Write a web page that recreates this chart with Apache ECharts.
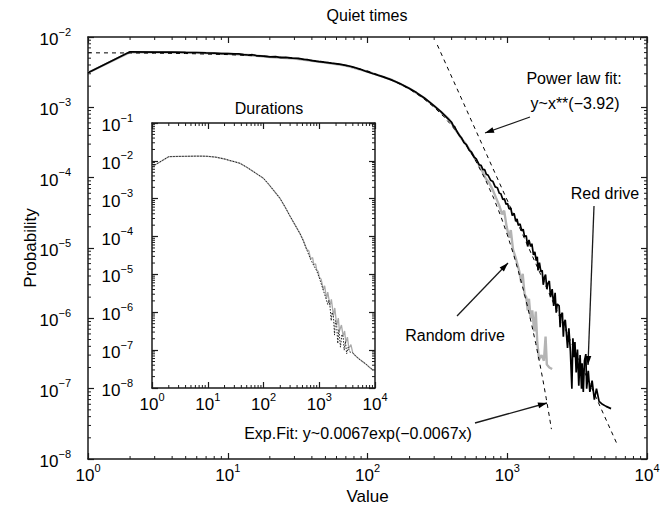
<!DOCTYPE html>
<html><head><meta charset="utf-8">
<script src="https://cdn.jsdelivr.net/npm/echarts@6/dist/echarts.min.js"></script>
<style>html,body{margin:0;padding:0;background:#fff}#c{width:665px;height:510px}</style>
</head><body><div id="c"></div>
<script>
// ---------- data ----------
const redDrive = [[1,3.1e-3],[2,6.15e-3],[3,6.1e-3],[4,6.12e-3],[5,6.05e-3],[6,6.02e-3],[7,5.95e-3],[8,5.9e-3],[9,5.82e-3],[10,5.8e-3],[11,5.74e-3],[12,5.77e-3],[13,5.62e-3],[14,5.55e-3],[15,5.6e-3],[16,5.45e-3],[18,5.35e-3],[20,5.22e-3],[22,5.27e-3],[24,5.1e-3],[26,5.14e-3],[29,5.0e-3],[32,4.96e-3],[35,4.82e-3],[37,4.76e-3],[40,4.62e-3],[45,4.47e-3],[50,4.36e-3],[55,4.25e-3],[63,4.12e-3],[70,3.95e-3],[78,3.78e-3],[88,3.5e-3],[98,3.24e-3],[110,3.0e-3],[128,2.73e-3],[145,2.5e-3],[169,2.2e-3],[195,1.9e-3],[224,1.62e-3],[255,1.36e-3],[291,1.1e-3],[335,8.7e-4],[385,6.6e-4],[400,6.1e-4],[410,5.5e-4],[420,5.3e-4],[435,4.6e-4],[454,4.0e-4],[470,3.7e-4],[490,3.15e-4],[510,2.95e-4],[535,2.45e-4],[555,2.3e-4],[580,1.95e-4],[600,1.85e-4],[630,1.52e-4],[650,1.5e-4],[670,1.3e-4],[690,1.3e-4],[708,1.12e-4],[730,1.08e-4],[760,9.2e-5],[790,8.8e-5],[820,7.4e-5],[850,7.2e-5],[877,6.0e-5],[900,5.9e-5],[930,4.9e-5],[955,5.0e-5],[980,4.2e-5],[1005,4.3e-5],[1030,3.6e-5],[1060,3.7e-5],[1086,2.9e-5],[1120,3.1e-5],[1150,2.4e-5],[1175,2.6e-5],[1200,2.1e-5],[1235,2.2e-5],[1270,1.75e-5],[1300,1.85e-5],[1330,1.45e-5],[1367,1.5e-5],[1400,1.05e-5],[1430,1.3e-5],[1470,1.05e-5],[1500,1.15e-5],[1540,8.0e-6],[1575,8.8e-6],[1611,6.6e-6],[1640,7.5e-6],[1660,4.8e-6],[1700,6.2e-6],[1740,4.6e-6],[1778,4.8e-6],[1810,3.0e-6],[1850,3.9e-6],[1880,4.2e-6],[1920,2.6e-6],[1950,3.1e-6],[2000,3.4e-6],[2040,2.0e-6],[2096,2.6e-6],[2150,1.5e-6],[2200,2.3e-6],[2240,1.2e-6],[2280,1.6e-6],[2352,1.5e-6],[2390,7.5e-7],[2420,1.1e-6],[2480,1.2e-6],[2520,5.5e-7],[2550,8.5e-7],[2600,9.5e-7],[2640,6.8e-7],[2700,3.8e-7],[2760,7.2e-7],[2830,3.4e-7],[2900,1.0e-7],[2950,5.2e-7],[3000,2.8e-7],[3050,4.6e-7],[3113,1.7e-7],[3180,3.6e-7],[3250,1.1e-7],[3320,3.0e-7],[3400,1.0e-7],[3432,2.3e-7],[3500,9.0e-8],[3570,2.5e-7],[3650,3.1e-7],[3700,1.0e-7],[3800,1.8e-7],[3900,9.0e-8],[4048,1.3e-7],[4200,7.0e-8],[4350,1.0e-7],[4541,6.6e-8],[4800,6.0e-8],[5100,5.6e-8],[5530,5.2e-8]];

const randomDrive = [[1,3.1e-3],[2,6.1e-3],[3,6.08e-3],[5,6.0e-3],[8,5.88e-3],[10,5.78e-3],[14,5.55e-3],[20,5.2e-3],[30,4.95e-3],[40,4.6e-3],[50,4.33e-3],[70,3.92e-3],[100,3.22e-3],[150,2.45e-3],[200,1.85e-3],[250,1.39e-3],[300,1.05e-3],[330,8.9e-4],[350,8.0e-4],[380,6.9e-4],[400,6.0e-4],[420,5.0e-4],[450,4.15e-4],[470,3.6e-4],[500,3.1e-4],[530,2.6e-4],[560,2.2e-4],[600,1.75e-4],[630,1.5e-4],[665,1.22e-4],[700,9.8e-5],[744,8.4e-5],[790,6.6e-5],[830,5.2e-5],[877,4.0e-5],[920,3.0e-5],[950,3.4e-5],[990,2.0e-5],[1033,1.4e-5],[1060,1.8e-5],[1100,9.5e-6],[1150,7.2e-6],[1218,4.7e-6],[1260,3.2e-6],[1290,4.3e-6],[1330,2.2e-6],[1367,2.0e-6],[1400,1.3e-6],[1430,1.9e-6],[1470,1.0e-6],[1510,1.3e-6],[1560,6.5e-7],[1600,1.25e-6],[1640,4.5e-7],[1690,2.6e-7],[1760,3.0e-7],[1830,2.5e-7],[1880,5.5e-7],[1920,2.2e-7],[2000,2.0e-7],[2096,1.9e-7]];

const expFit = [[1,5.96e-3],[2,5.93e-3],[3,5.89e-3],[5,5.82e-3],[10,5.62e-3],[20,5.29e-3],[30,4.99e-3],[50,4.43e-3],[70,3.93e-3],[100,3.29e-3],[150,2.44e-3],[200,1.81e-3],[250,1.35e-3],[300,1.0e-3],[350,7.43e-4],[400,5.52e-4],[450,4.1e-4],[500,3.04e-4],[550,2.26e-4],[600,1.68e-4],[700,9.26e-5],[800,5.1e-5],[900,2.82e-5],[1000,1.55e-5],[1100,8.56e-6],[1200,4.72e-6],[1300,2.6e-6],[1400,1.44e-6],[1500,7.9e-7],[1600,4.37e-7],[1700,2.41e-7],[1800,1.33e-7],[1900,7.3e-8],[2000,4.05e-8],[2070,2.66e-8]];

const powerFit = [[316,7.7e-3],[6105,1.63e-8]];

const insetGray = [[1,7.0e-3],[2,1.29e-2],[3,1.31e-2],[4,1.32e-2],[6,1.33e-2],[8,1.33e-2],[10,1.32e-2],[14,1.25e-2],[20,1.12e-2],[25,1.02e-2],[30,9.5e-3],[38,8.6e-3],[50,6.8e-3],[66,5.2e-3],[80,4.3e-3],[99,3.5e-3],[120,2.55e-3],[150,1.7e-3],[197,1.03e-3],[240,6.3e-4],[298,3.5e-4],[370,2.0e-4],[451,1.2e-4],[520,7.8e-5],[596,4.6e-5],[650,4.2e-5],[700,2.6e-5],[760,2.8e-5],[800,1.8e-5],[860,1.9e-5],[900,1.3e-5],[960,1.2e-5],[1000,8.5e-6],[1080,7.5e-6],[1183,4.0e-6],[1250,5.0e-6],[1350,2.3e-6],[1420,3.4e-6],[1560,1.5e-6],[1650,2.2e-6],[1800,8.0e-7],[1900,1.3e-6],[2057,4.5e-7],[2200,7.0e-7],[2300,3.2e-7],[2500,4.6e-7],[2690,2.3e-7],[2850,3.2e-7],[3000,1.6e-7],[3200,2.2e-7],[3400,1.1e-7],[3700,1.4e-7],[3990,8.5e-8],[4500,7.0e-8],[5200,5.8e-8],[6080,4.9e-8],[7000,4.2e-8],[8000,3.5e-8],[9200,3.0e-8]];

const insetBlack = [[1,7.0e-3],[2,1.29e-2],[3,1.31e-2],[4,1.32e-2],[6,1.33e-2],[8,1.33e-2],[10,1.32e-2],[14,1.25e-2],[20,1.12e-2],[25,1.02e-2],[30,9.5e-3],[38,8.6e-3],[50,6.8e-3],[66,5.2e-3],[80,4.3e-3],[99,3.5e-3],[120,2.55e-3],[150,1.7e-3],[197,1.03e-3],[240,6.3e-4],[298,3.5e-4],[370,2.0e-4],[451,1.2e-4],[520,7.6e-5],[596,4.5e-5],[700,2.5e-5],[800,1.7e-5],[900,1.25e-5],[1000,8.2e-6],[1183,3.8e-6],[1300,2.5e-6],[1420,1.6e-6],[1480,2.1e-6],[1560,1.4e-6],[1640,6.0e-7],[1700,1.0e-6],[1800,7.5e-7],[1880,2.5e-7],[1950,6.0e-7],[2057,4.2e-7],[2150,1.5e-7],[2250,3.5e-7],[2400,1.2e-7],[2550,2.6e-7],[2690,2.2e-7],[2800,1.0e-7],[2950,1.7e-7],[3100,8.0e-8],[3300,1.2e-7],[3500,9.0e-8],[3990,8.5e-8],[4500,7.0e-8],[5200,5.8e-8],[6080,4.9e-8],[7000,4.2e-8],[8000,3.5e-8],[9200,3.0e-8]];

const mainXRange = [1, 1e4];
const mainYRange = [1e-8, 1e-2];
const insetXRange = [1, 1e4];
const insetYRange = [1e-8, 1e-1];

const texts = {
  title: 'Quiet times', insetTitle: 'Durations', xName: 'Value', yName: 'Probability',
  power1: 'Power law fit:', power2: 'y~x**(\u22123.92)', red: 'Red drive',
  random: 'Random drive', exp: 'Exp.Fit: y~0.0067exp(\u22120.0067x)'
};

// ---------- chart ----------
const FONT = "'Liberation Sans', Arial, Helvetica, sans-serif";
const AX = '#1a1a1a';
const chart = echarts.init(document.getElementById('c'), null, {renderer: 'svg'});

function supLabel(v) {
  const e = Math.round(Math.log10(v));
  return '{b|10}{s|' + (e < 0 ? '\u2212' + (-e) : String(e)) + '}';
}
const rich = {
  b: {fontSize: 17, fontFamily: FONT, color: '#000', lineHeight: 22, verticalAlign: 'bottom'},
  s: {fontSize: 11, fontFamily: FONT, color: '#000', lineHeight: 11, verticalAlign: 'top'}
};
function axisBase(extra) {
  return Object.assign({
    type: 'log', logBase: 10, interval: 1,
    axisLine: {show: true, onZero: false, lineStyle: {color: AX, width: 1.5}},
    axisTick: {show: true, inside: true, length: 6, lineStyle: {color: AX, width: 1.2}},
    minorTick: {show: false},
    splitLine: {show: false},
    axisLabel: {show: true, formatter: supLabel, rich: rich, margin: 3}
  }, extra);
}
const noLabel = {show: false};

const grids = [
  {left: 88, top: 37, width: 559, height: 426, show: false},
  {left: 152, top: 123, width: 223, height: 265, show: true, backgroundColor: '#fff', borderWidth: 0}
];

const option = {
  animation: false,
  backgroundColor: '#fff',
  textStyle: {fontFamily: FONT},
  grid: grids,
  xAxis: [
    axisBase({gridIndex: 0, min: mainXRange[0], max: mainXRange[1], position: 'bottom',
      name: texts.xName, nameLocation: 'middle', nameGap: 29, nameMoveOverlap: false,
      nameTextStyle: {fontSize: 17, fontFamily: FONT, color: '#000'}}),
    axisBase({gridIndex: 0, min: mainXRange[0], max: mainXRange[1], position: 'top', axisLabel: noLabel}),
    axisBase({gridIndex: 1, min: insetXRange[0], max: insetXRange[1], position: 'bottom'}),
    axisBase({gridIndex: 1, min: insetXRange[0], max: insetXRange[1], position: 'top', axisLabel: noLabel})
  ],
  yAxis: [
    axisBase({gridIndex: 0, min: mainYRange[0], max: mainYRange[1], position: 'left',
      axisLabel: {formatter: supLabel, rich: rich, margin: 17},
      name: texts.yName, nameLocation: 'middle', nameGap: 49, nameRotate: 90, nameMoveOverlap: false,
      nameTextStyle: {fontSize: 17, fontFamily: FONT, color: '#000'}}),
    axisBase({gridIndex: 0, min: mainYRange[0], max: mainYRange[1], position: 'right', axisLabel: noLabel}),
    axisBase({gridIndex: 1, min: insetYRange[0], max: insetYRange[1], position: 'left',
      axisLabel: {formatter: supLabel, rich: rich, margin: 19}}),
    axisBase({gridIndex: 1, min: insetYRange[0], max: insetYRange[1], position: 'right', axisLabel: noLabel})
  ],
  series: [
    {type: 'line', name: 'Random drive', xAxisIndex: 0, yAxisIndex: 0, data: randomDrive,
      showSymbol: false, symbol: 'none', z: 2, lineStyle: {color: '#b4b4b4', width: 2.4}},
    {type: 'line', name: 'Red drive', xAxisIndex: 0, yAxisIndex: 0, data: redDrive,
      showSymbol: false, symbol: 'none', z: 3, lineStyle: {color: '#000', width: 1.7}},
    {type: 'line', name: 'Exp fit', xAxisIndex: 0, yAxisIndex: 0, data: expFit, smooth: false,
      showSymbol: false, symbol: 'none', z: 4, lineStyle: {color: '#000', width: 1, type: [4, 4]}},
    {type: 'line', name: 'Power fit', xAxisIndex: 0, yAxisIndex: 0, data: powerFit,
      showSymbol: false, symbol: 'none', z: 4, lineStyle: {color: '#000', width: 1, type: [4, 4]}},
    {type: 'line', name: 'Durations gray', xAxisIndex: 2, yAxisIndex: 2, data: insetGray,
      showSymbol: false, symbol: 'none', z: 2, lineStyle: {color: '#aaaaaa', width: 1.3}},
    {type: 'line', name: 'Durations', xAxisIndex: 2, yAxisIndex: 2, data: insetBlack,
      showSymbol: false, symbol: 'none', z: 3, lineStyle: {color: '#222', width: 1, type: [1.5, 1.5]}}
  ]
};
chart.setOption(option);

// ---------- minor ticks and annotations ----------
const els = [];
function seg(x1, y1, x2, y2, w) {
  els.push({type: 'line', silent: true, z: 100, shape: {x1, y1, x2, y2}, style: {stroke: AX, lineWidth: w || 1}});
}
function minorTicks(xi, yi, xr, yr, len) {
  const g = {
    l: chart.convertToPixel({xAxisIndex: xi}, xr[0]), r: chart.convertToPixel({xAxisIndex: xi}, xr[1]),
    b: chart.convertToPixel({yAxisIndex: yi}, yr[0]), t: chart.convertToPixel({yAxisIndex: yi}, yr[1])
  };
  for (let k = Math.round(Math.log10(xr[0])); k < Math.round(Math.log10(xr[1])); k++) {
    for (let m = 2; m <= 9; m++) {
      const px = chart.convertToPixel({xAxisIndex: xi}, m * Math.pow(10, k));
      seg(px, g.b, px, g.b - len); seg(px, g.t, px, g.t + len);
    }
  }
  for (let k = Math.round(Math.log10(yr[0])); k < Math.round(Math.log10(yr[1])); k++) {
    for (let m = 2; m <= 9; m++) {
      const py = chart.convertToPixel({yAxisIndex: yi}, m * Math.pow(10, k));
      seg(g.l, py, g.l + len, py); seg(g.r, py, g.r - len, py);
    }
  }
}
minorTicks(0, 0, mainXRange, mainYRange, 3);
minorTicks(2, 2, insetXRange, insetYRange, 3);

function txt(s, x, y, size, align) {
  els.push({type: 'text', silent: true, z: 100, x: x, y: y,
    style: {text: s, fill: '#000', font: (size || 16) + 'px ' + FONT,
      align: align || 'center', verticalAlign: 'middle', textAlign: align || 'center', textVerticalAlign: 'middle'}});
}
function arrow(x1, y1, x2, y2, head) {
  seg(x1, y1, x2, y2, 1.3);
  if (head === false) return;
  const dx = x2 - x1, dy = y2 - y1, L = Math.hypot(dx, dy), ux = dx / L, uy = dy / L;
  const bx = x2 - 9 * ux, by = y2 - 9 * uy, nx = -uy * 3, ny = ux * 3;
  els.push({type: 'polygon', silent: true, z: 100,
    shape: {points: [[x2, y2], [bx + nx, by + ny], [bx - nx, by - ny]]}, style: {fill: '#000'}});
}
txt(texts.title, 367, 15, 16);
txt(texts.insetTitle, 269, 108, 16);
txt(texts.power1, 574, 78, 16);
txt(texts.power2, 575, 103, 16);
arrow(530, 117, 485, 133);
txt(texts.red, 605, 193, 16);
arrow(594, 206, 588, 365);
txt(texts.random, 455, 335, 16);
arrow(457, 316, 508, 263);
txt(texts.exp, 358, 433, 16);
arrow(475, 423, 547, 403);

chart.setOption({graphic: {elements: els}});
</script>
</body></html>
